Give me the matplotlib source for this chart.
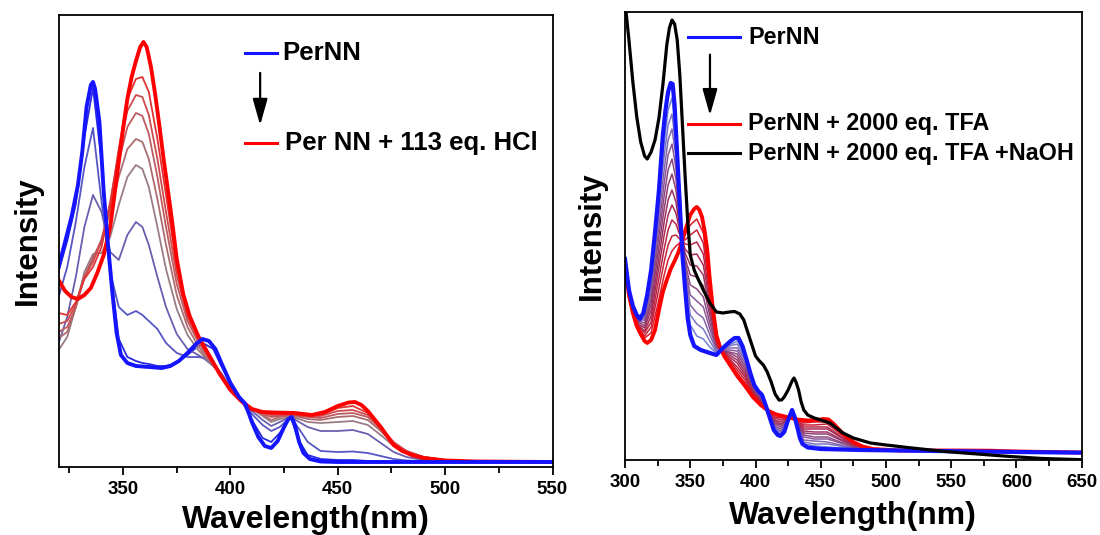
import matplotlib
matplotlib.use("Agg")
import matplotlib.pyplot as plt
from matplotlib.lines import Line2D
from matplotlib.ticker import MultipleLocator

plt.rcParams['font.family'] = ['Liberation Sans', 'DejaVu Sans']
plt.rcParams['font.weight'] = 'bold'

# ---------------- left panel: HCl titration ----------------
# start (PerNN) and end (+113 eq. HCl) spectra, read more densely
wl_hcl_start = [320, 323, 326, 329, 331, 333, 335, 336, 337, 339, 341, 343, 345, 347, 349,
                352, 356, 362, 368, 372, 376, 380, 384, 387, 390, 393, 396, 400, 404, 407,
                410, 413, 416, 419, 422, 425, 427, 428.5, 430, 432, 434, 437, 442, 450, 500, 550]
pernn_hcl = [200, 225, 250, 282, 315, 360, 382, 385, 378, 345, 275, 222, 175, 134, 112,
             104, 101, 100, 99, 101, 106, 114, 123, 128, 126, 118, 103, 84, 70, 63,
             45, 30, 21, 19, 26, 40, 48, 50, 42, 25, 14, 8, 5.5, 5, 5, 5]
wl_hcl_end = [320, 323, 326, 329, 332, 335, 338, 341, 344, 346, 348, 350, 352, 354, 356,
              358, 359.5, 361, 363, 365, 367, 369, 371, 373, 375, 378, 381, 385, 390, 395,
              400, 405, 410, 415, 420, 430, 438, 444, 450, 455, 458, 461, 464, 467, 470,
              473, 476, 480, 485, 490, 500, 515, 550]
hcl_final = [187, 176, 170, 168, 172, 179, 194, 212, 240, 272, 305, 338, 368, 390, 406,
             420, 425, 420, 400, 372, 340, 306, 275, 243, 208, 173, 151, 131, 112, 93,
             77, 66, 58, 55, 54.5, 54, 52, 55, 61, 64.5, 65, 62, 56, 48, 40,
             31, 22, 16, 11.5, 9, 6.5, 5.5, 5]

# intermediate additions
wl_hcl = [320, 324, 328, 332, 336, 340, 344, 348, 352, 356, 359, 362, 366, 370, 375,
          380, 385, 388, 392, 396, 400, 405, 410, 415, 419, 423, 428, 432, 436, 442,
          450, 457, 464, 470, 476, 482, 490, 500, 515, 550]
hcl_steps = [
    [196, 226, 263, 330, 379, 305, 200, 128, 110, 106, 104, 103, 101, 101, 104,
     112, 121, 123, 118, 100, 83, 67, 47, 29, 25, 34, 50, 26, 12, 8,
     7, 7, 6, 6, 5, 5, 5, 5, 5, 5],
    [170, 200, 245, 300, 339, 265, 195, 160, 152, 156, 152, 146, 138, 124, 114,
     110, 110, 109, 104, 93, 80, 66, 53, 42, 36, 40, 50, 38, 25, 16,
     15, 15.5, 14, 11, 8, 6.5, 6, 5.5, 5, 5],
    [124, 150, 190, 240, 272, 255, 215, 207, 232, 245, 240, 222, 190, 160, 133,
     118, 112, 108, 101, 92, 81, 66, 56, 47, 41, 45, 50, 45, 40, 36,
     36, 37, 33, 24, 15, 10, 7, 6, 5, 5],
    [117, 130, 160, 195, 213, 214, 230, 262, 290, 302, 298, 280, 240, 198, 158,
     132, 117, 110, 101, 91, 80, 66, 58, 51, 45, 48, 50, 48, 45, 44,
     45, 46, 42, 32, 21, 14, 9, 6.5, 5.5, 5],
    [129, 135, 160, 190, 210, 225, 255, 290, 318, 328, 325, 308, 268, 222, 172,
     140, 121, 112, 102, 91, 79, 66, 58, 52, 47, 50, 51, 50, 48, 47,
     50, 51, 47, 36, 23, 15, 10, 7, 5.5, 5],
    [135, 140, 160, 190, 208, 228, 262, 305, 340, 354, 351, 333, 290, 240, 183,
     146, 125, 115, 103, 91, 78, 66, 58, 53, 50, 51, 52, 51, 50, 49,
     53, 54, 50, 38, 24, 16, 10, 7, 5.5, 5],
    [143, 146, 163, 190, 205, 226, 265, 315, 356, 372, 370, 352, 308, 255, 192,
     150, 128, 117, 104, 91, 77, 66, 58, 54, 52, 52, 52, 52, 51, 51,
     56, 57, 52, 39, 25, 16, 10, 7, 5.5, 5],
    [154, 152, 165, 188, 200, 220, 262, 318, 368, 388, 390, 375, 328, 272, 200,
     155, 130, 119, 105, 91, 77, 66, 58, 54, 53, 53, 53, 52, 51, 52,
     59, 61, 54, 39, 23, 15, 9.5, 7, 5.5, 5],
]
hcl_colors = ['#2a2ae0', '#5656c4', '#6a5fae', '#9a7c84', '#ad6c70', '#bd5c60',
              '#cf4a4c', '#e03434']

# ---------------- right panel: TFA titration ----------------
wl_tfa_start = [300, 303, 306, 309, 311.5, 314, 317, 320, 323, 326, 329, 331, 333, 335, 336.5,
                338, 340, 342, 344, 346, 348, 350, 353, 358, 365, 370, 375, 380, 384, 387,
                390, 393, 396, 399, 402, 405, 408, 411, 414, 417, 419, 422, 425, 428, 430,
                432, 434, 436, 440, 450, 480, 520, 600, 650]
pernn_tfa = [201, 170, 154, 145, 141, 147, 165, 190, 228, 270, 325, 350, 368, 377, 376,
             355, 305, 255, 205, 172, 142, 125, 114, 110, 107, 105, 112, 118, 122, 122,
             114, 101, 87, 75, 69, 65, 54, 42, 30, 25, 24, 28, 40, 50, 43,
             33, 22, 16, 12.5, 11, 10, 9.3, 8, 7.3]
wl_tfa_end = [300, 303, 306, 309, 312, 315, 317, 320, 323, 326, 329, 332, 335, 338, 341,
              344, 347, 350, 353, 355, 357, 359, 361, 363, 365, 367, 370, 373, 376, 380,
              386, 392, 398, 404, 410, 416, 424, 432, 440, 447, 452, 456, 460, 465, 470,
              475, 482, 490, 510, 550, 580, 600, 650]
tfa_final = [195, 165, 147, 134, 126, 119, 117, 120, 130, 150, 168, 180, 191, 199, 208,
             220, 233, 245, 251, 253, 250, 243, 229, 210, 180, 155, 125, 112, 104, 96,
             84, 74, 63, 55, 49, 45.5, 43, 40.5, 39.5, 40, 41, 40.5, 36, 29, 23,
             18, 13.5, 11, 9.5, 9.5, 9.3, 8.5, 7.5]
wl_naoh = [300, 303, 306, 309, 312, 315, 317, 320, 323, 326, 329, 332, 334, 336, 338,
           340, 342, 344, 346, 348, 350, 353, 356, 360, 365, 370, 375, 380, 384, 388,
           391, 394, 397, 400, 403, 406, 409, 412, 415, 418, 420, 422, 425, 428, 429.5,
           431, 433, 435, 437, 440, 445, 450, 457, 462, 467, 475, 488, 500, 520, 545,
           570, 595, 620, 650]
tfa_naoh = [458, 420, 378, 343, 318, 304, 301, 308, 320, 342, 375, 415, 432, 440, 436,
            420, 385, 335, 285, 240, 205, 190, 181, 170, 157, 148, 147, 148, 148.5, 146,
            140, 128, 116, 104, 99, 95, 88, 78, 66, 60, 60, 63, 70, 79, 82,
            78, 70, 58, 50, 45, 42, 40, 37, 32, 27, 22, 17, 15, 12, 8.5,
            6, 3.5, 1.5, 0.3]

wl_tfa = [300, 305, 310, 315, 320, 325, 330, 333, 336, 339, 342, 346, 350, 355, 360,
          365, 370, 375, 380, 386, 392, 398, 404, 410, 415, 419, 424, 428, 432, 437,
          445, 455, 465, 475, 490, 510, 550, 600, 650]
tfa_steps = [
    [200, 159, 144, 147, 184, 252, 317, 350, 362, 325, 258, 180, 135, 124, 121, 113, 107, 111, 115, 119,
     105, 77, 66, 45, 30, 26, 35, 49, 34, 16, 14, 13, 12, 11, 10, 9.5, 9, 8, 7.4],
    [200, 159, 142, 145, 179, 243, 304, 335, 346, 314, 254, 184, 145, 136, 131, 119, 108, 110, 114, 116,
     102, 76, 65, 46, 31, 28, 36, 49, 34, 18, 16, 16, 14, 11, 10, 9.5, 9, 8, 7.4],
    [200, 158, 141, 142, 173, 233, 290, 320, 331, 303, 250, 189, 155, 147, 142, 125, 110, 110, 112, 112,
     100, 74, 64, 46, 33, 29, 36, 48, 35, 20, 19, 18, 15, 12, 10, 9.5, 9, 8, 7.4],
    [199, 157, 140, 140, 167, 223, 277, 305, 316, 292, 246, 193, 165, 159, 153, 131, 112, 109, 110, 109,
     97, 73, 63, 46, 34, 31, 37, 47, 36, 23, 21, 21, 17, 13, 10, 9.5, 9, 8, 7.4],
    [198, 157, 139, 137, 161, 214, 264, 290, 301, 281, 242, 198, 175, 171, 163, 137, 113, 109, 108, 106,
     94, 72, 62, 47, 36, 33, 38, 47, 36, 25, 23, 23, 18, 13, 10, 9.5, 9, 8, 7.4],
    [198, 156, 138, 134, 156, 204, 251, 275, 286, 270, 238, 202, 185, 183, 174, 144, 115, 108, 107, 103,
     91, 71, 61, 47, 37, 35, 39, 46, 37, 27, 26, 26, 20, 14, 10, 9.5, 9, 8, 7.4],
    [198, 155, 136, 132, 150, 194, 238, 260, 270, 258, 233, 207, 195, 194, 185, 150, 117, 108, 105, 100,
     88, 69, 60, 47, 39, 36, 39, 45, 37, 29, 28, 28, 21, 15, 11, 9.5, 9, 8, 7.4],
    [197, 155, 135, 129, 144, 185, 225, 245, 255, 247, 229, 211, 205, 206, 195, 156, 118, 108, 103, 97,
     85, 68, 59, 48, 40, 38, 40, 45, 38, 31, 31, 31, 23, 15, 11, 9.5, 9, 8, 7.4],
    [196, 154, 134, 127, 138, 175, 211, 230, 240, 236, 225, 216, 215, 218, 206, 162, 120, 107, 101, 93,
     83, 67, 58, 48, 42, 40, 41, 44, 39, 33, 33, 33, 24, 16, 11, 9.5, 9, 8, 7.4],
    [196, 153, 132, 124, 133, 165, 198, 215, 224, 225, 221, 220, 225, 230, 217, 168, 122, 107, 100, 90,
     80, 66, 57, 48, 43, 42, 42, 43, 39, 35, 35, 36, 26, 17, 11, 9.5, 9, 8, 7.4],
    [196, 153, 131, 122, 127, 155, 185, 200, 209, 214, 217, 225, 235, 241, 227, 174, 123, 106, 98, 87,
     77, 64, 56, 49, 45, 43, 42, 43, 40, 37, 38, 38, 27, 17, 11, 9.5, 9, 8, 7.4],
]
tfa_colors = ['#6f7ed6', '#7b76c4', '#8466ae', '#8a5898', '#8c4a84', '#923e72',
              '#9c3462', '#a82c54', '#b82646', '#c8223a', '#da1e30']

fig = plt.figure(figsize=(11, 5.35), dpi=100)
ax1 = fig.add_axes([0.0533, 0.1271, 0.449, 0.8449])
ax2 = fig.add_axes([0.5682, 0.1402, 0.4152, 0.8374])

# left
for ys, c in zip(hcl_steps, hcl_colors):
    ax1.plot(wl_hcl, ys, color=c, lw=1.3)
ax1.plot(wl_hcl_end, hcl_final, color='#ff0000', lw=2.8)
ax1.plot(wl_hcl_start, pernn_hcl, color='#1414ff', lw=2.8)
ax1.set_xlim(320, 550)
ax1.set_ylim(0, 452)

# right
for ys, c in zip(tfa_steps, tfa_colors):
    ax2.plot(wl_tfa, ys, color=c, lw=1.1)
ax2.plot(wl_tfa_end, tfa_final, color='#ff0000', lw=2.8)
ax2.plot(wl_tfa_start, pernn_tfa, color='#1414ff', lw=3.0)
ax2.plot(wl_naoh, tfa_naoh, color='black', lw=2.3)
ax2.set_xlim(300, 650)
ax2.set_ylim(0, 448)

for ax in (ax1, ax2):
    ax.xaxis.set_major_locator(MultipleLocator(50))
    ax.xaxis.set_minor_locator(MultipleLocator(25))
    ax.set_yticks([])
    for s in ax.spines.values():
        s.set_linewidth(1.3)
    ax.tick_params(axis='x', which='major', direction='out', length=6, width=1.3,
                   labelsize=13.5, pad=4)
    ax.tick_params(axis='x', which='minor', direction='out', length=4, width=1.3)
    for lab in ax.get_xticklabels():
        lab.set_fontweight('bold')
    ax.set_xlabel('Wavelength(nm)', fontsize=23, fontweight='bold')
    ax.set_ylabel('Intensity', fontsize=22.5, fontweight='bold')

ax1.xaxis.set_label_coords(0.5, -0.084)
ax1.yaxis.set_label_coords(-0.032, 0.5)
ax2.xaxis.set_label_coords(0.5, -0.092)
ax2.yaxis.set_label_coords(-0.040, 0.5)

# hand-made legends with the titration arrow
ax1.add_line(Line2D([0.378, 0.443], [0.916, 0.916], transform=ax1.transAxes, color='#1414ff', lw=2.2))
ax1.add_line(Line2D([0.378, 0.443], [0.717, 0.717], transform=ax1.transAxes, color='#ff0000', lw=2.2))
ax1.text(0.452, 0.916, 'PerNN', transform=ax1.transAxes, fontsize=18.5, fontweight='bold', va='center')
ax1.text(0.459, 0.717, 'Per NN + 113 eq. HCl', transform=ax1.transAxes, fontsize=18.5,
         fontweight='bold', va='center')
ax1.annotate('', xy=(0.408, 0.75), xytext=(0.408, 0.878), xycoords='axes fraction',
             arrowprops=dict(arrowstyle='-|>,head_length=1.6,head_width=0.45', color='black', lw=1.6))

ax2.add_line(Line2D([0.138, 0.252], [0.944, 0.944], transform=ax2.transAxes, color='#1414ff', lw=2.2))
ax2.add_line(Line2D([0.138, 0.252], [0.75, 0.75], transform=ax2.transAxes, color='#ff0000', lw=2.2))
ax2.add_line(Line2D([0.138, 0.252], [0.685, 0.685], transform=ax2.transAxes, color='black', lw=2.2))
ax2.text(0.269, 0.944, 'PerNN', transform=ax2.transAxes, fontsize=16.8, fontweight='bold', va='center')
ax2.text(0.269, 0.75, 'PerNN + 2000 eq. TFA', transform=ax2.transAxes, fontsize=16.8,
         fontweight='bold', va='center')
ax2.text(0.269, 0.685, 'PerNN + 2000 eq. TFA +NaOH', transform=ax2.transAxes, fontsize=16.8,
         fontweight='bold', va='center')
ax2.annotate('', xy=(0.186, 0.763), xytext=(0.186, 0.911), xycoords='axes fraction',
             arrowprops=dict(arrowstyle='-|>,head_length=1.6,head_width=0.45', color='black', lw=1.6))

fig.savefig('out.png', dpi=100)
